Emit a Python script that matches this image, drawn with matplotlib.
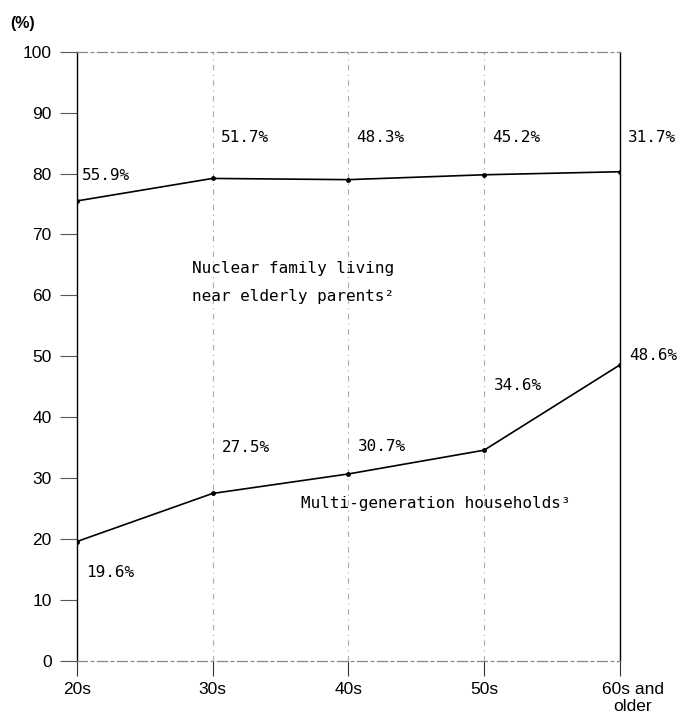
import numpy as np
import matplotlib
matplotlib.use("Agg")
import matplotlib.pyplot as plt
import matplotlib.transforms as mtransforms

# data
ages = ["20s", "30s", "40s", "50s", "60s and\nolder"]
multi_gen = [19.6, 27.5, 30.7, 34.6, 48.6]        # Multi-generation households
nuclear_near = [55.9, 51.7, 48.3, 45.2, 31.7]     # Nuclear family living near elderly parents

lower = np.array(multi_gen)
upper = lower + np.array(nuclear_near)   # stacked on top of the multi-generation share
x = np.arange(len(ages))

mono = ["DejaVu Sans Mono"]
sans = ["Liberation Sans", "DejaVu Sans"]

fig = plt.figure(figsize=(6.79, 7.28), dpi=100)
ax = fig.add_axes([0.113, 0.092, 0.800, 0.837])

# faint dotted guides at the middle age groups
for xi in x[1:-1]:
    ax.axvline(xi, color="#aaaaaa", lw=0.8, ls=(0, (5, 4, 1, 4)), zorder=1)

ax.plot(x, upper, color="black", lw=1.2, marker="o", ms=2.5, zorder=3)
ax.plot(x, lower, color="black", lw=1.2, marker="o", ms=2.5, zorder=3)

ax.set_xlim(0, len(ages) - 1)
ax.set_ylim(0, 100)
ax.set_yticks(range(0, 101, 10))
ax.set_xticks(x)
ax.set_xticklabels(ages)

for lab in ax.get_yticklabels() + ax.get_xticklabels():
    lab.set_family(sans)
    lab.set_fontsize(12.5)
ax.tick_params(axis="y", length=12, width=0.8, color="#555555", pad=6)
ax.tick_params(axis="x", length=11, width=0.8, color="#333333", pad=4)

# last label sits a bit to the right
last = ax.get_xticklabels()[-1]
last.set_transform(last.get_transform() + mtransforms.ScaledTranslation(0.13, 0, fig.dpi_scale_trans))

for side in ["left", "right"]:
    ax.spines[side].set_color("black")
    ax.spines[side].set_linewidth(1.0)
for side in ["top", "bottom"]:
    ax.spines[side].set_color("#888888")
    ax.spines[side].set_linewidth(0.9)
    ax.spines[side].set_linestyle((0, (8, 3, 2, 3)))

fs = 11.5
# value labels for the nuclear-family share (above the upper line)
ax.text(x[0] + 0.04, 79.6, f"{nuclear_near[0]}%", family=mono, fontsize=fs, va="center")
for xi, v in zip(x[1:], nuclear_near[1:]):
    ax.text(xi + 0.06, 85.9, f"{v}%", family=mono, fontsize=fs, va="center")

# value labels for the multi-generation share
lower_pos = [14.6, 35.1, 35.2, 45.2, 50.2]
for xi, v, yp in zip(x, multi_gen, lower_pos):
    ax.text(xi + 0.07, yp, f"{v}%", family=mono, fontsize=fs, va="center")

ax.text(0.85, 64.5, "Nuclear family living", family=mono, fontsize=fs, va="center")
ax.text(0.85, 59.8, "near elderly parents\u00b2", family=mono, fontsize=fs, va="center")
ax.text(1.65, 25.8, "Multi-generation households\u00b3", family=mono, fontsize=fs, va="center")

fig.text(0.015, 0.968, "(%)", family=sans, fontsize=11.5, weight="bold", va="center")

fig.savefig("out.png", dpi=100)
